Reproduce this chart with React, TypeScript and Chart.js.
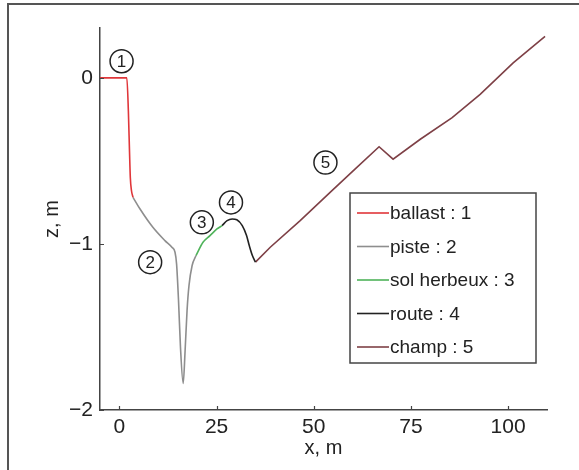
import React, { useEffect, useRef } from "react";
import { Chart, registerables } from "chart.js";

Chart.register(...registerables);

// ---- data (x in m, z in m) ----
const ballastX = [-5, 1.9, 2.3, 2.6, 2.8, 3.1, 3.5];
const ballastZ = [0, 0, -0.2, -0.45, -0.6, -0.68, -0.72];

const pisteX = [3.5, 5.3, 8.6, 11.7, 13.5, 14.3, 14.7, 15.2, 15.7, 16.4, 16.9, 17.4, 17.9, 18.7, 19.7];
const pisteZ = [-0.72, -0.79, -0.9, -0.98, -1.02, -1.05, -1.12, -1.34, -1.62, -1.84, -1.64, -1.4, -1.25, -1.13, -1.07];

const solX = [19.7, 21.5, 23.3, 25.1, 26.4];
const solZ = [-1.07, -0.99, -0.95, -0.91, -0.89];

const routeX = [26.4, 27.7, 29.0, 30.2, 31.6, 32.7, 33.4, 34.2, 35.0];
const routeZ = [-0.89, -0.86, -0.85, -0.855, -0.89, -0.95, -1.01, -1.07, -1.11];

const champX = [35.0, 38.8, 46.5, 54.2, 60.6, 66.8, 70.4, 77.4, 85.6, 92.8, 101.3, 109.5];
const champZ = [-1.11, -1.02, -0.86, -0.69, -0.55, -0.415, -0.49, -0.37, -0.24, -0.1, 0.09, 0.25];

const seriesLabels = ["ballast : 1", "piste : 2", "sol herbeux : 3", "route : 4", "champ : 5"];
const seriesColors = ["#e0363a", "#8e8e8e", "#4fb35a", "#222222", "#7e4046"];
const seriesSmooth = [true, true, true, true, false];

const xTickValues = [0, 25, 50, 75, 100];
const yTickValues = [-2, -1, 0];

const markerLabels = ["1", "2", "3", "4", "5"];
const markerX = [0.55, 7.9, 21.2, 28.7, 53.0];
const markerZ = [0.1, -1.11, -0.87, -0.75, -0.51];

const xTitle = "x, m";
const yTitle = "z, m";

const FONT = "'Liberation Sans', Arial, Helvetica, sans-serif";

function pts(xs: number[], zs: number[]) {
  return xs.map((x, i) => ({ x, y: zs[i] }));
}

const fmt = (v: number) => (v < 0 ? "\u2212" + Math.abs(v) : String(v));

const decorPlugin = {
  id: "decor",
  beforeDraw(chart: any) {
    const ctx = chart.ctx;
    ctx.save();
    ctx.fillStyle = "#ffffff";
    ctx.fillRect(0, 0, chart.width, chart.height);
    ctx.strokeStyle = "#555";
    ctx.lineWidth = 2;
    ctx.beginPath();
    ctx.moveTo(8, chart.height);
    ctx.lineTo(8, 4);
    ctx.lineTo(chart.width, 4);
    ctx.stroke();
    ctx.restore();
  },
  afterDraw(chart: any) {
    const ctx = chart.ctx;
    const xs = chart.scales.x;
    const ys = chart.scales.y;
    const area = chart.chartArea;
    ctx.save();
    ctx.strokeStyle = "#444";
    ctx.lineWidth = 1.2;
    ctx.beginPath();
    xTickValues.forEach((v) => {
      const px = Math.round(xs.getPixelForValue(v)) + 0.5;
      ctx.moveTo(px, area.bottom);
      ctx.lineTo(px, area.bottom - 4);
    });
    yTickValues.forEach((v) => {
      const py = Math.round(ys.getPixelForValue(v)) + 0.5;
      ctx.moveTo(area.left, py);
      ctx.lineTo(area.left + 4, py);
    });
    ctx.stroke();

    markerLabels.forEach((lab, i) => {
      const cx = xs.getPixelForValue(markerX[i]);
      const cy = ys.getPixelForValue(markerZ[i]);
      ctx.beginPath();
      ctx.arc(cx, cy, 11.5, 0, Math.PI * 2);
      ctx.fillStyle = "rgba(255,255,255,0.9)";
      ctx.fill();
      ctx.strokeStyle = "#222";
      ctx.lineWidth = 1.5;
      ctx.stroke();
      ctx.fillStyle = "#222";
      ctx.font = `17px ${FONT}`;
      ctx.textAlign = "center";
      ctx.textBaseline = "middle";
      ctx.fillText(lab, cx, cy + 1);
    });

    const lx = 350, ly = 193, lw = 186, lh = 170;
    ctx.fillStyle = "#ffffff";
    ctx.fillRect(lx, ly, lw, lh);
    ctx.strokeStyle = "#444";
    ctx.lineWidth = 1.5;
    ctx.strokeRect(lx, ly, lw, lh);
    const rowStart = 213;
    const rowStep = 33.5;
    chart.data.datasets.forEach((ds: any, i: number) => {
      const y = rowStart + i * rowStep;
      ctx.strokeStyle = ds.borderColor;
      ctx.lineWidth = 1.6;
      ctx.beginPath();
      ctx.moveTo(357, y);
      ctx.lineTo(389, y);
      ctx.stroke();
      ctx.fillStyle = "#222";
      ctx.font = `19px ${FONT}`;
      ctx.textAlign = "left";
      ctx.textBaseline = "middle";
      ctx.fillText(ds.label, 390, y + 1);
    });
    ctx.restore();
  },
};

export default function App() {
  const ref = useRef<HTMLCanvasElement | null>(null);

  useEffect(() => {
    if (!ref.current) return;
    const xsArr = [ballastX, pisteX, solX, routeX, champX];
    const zsArr = [ballastZ, pisteZ, solZ, routeZ, champZ];
    const chart = new Chart(ref.current, {
      type: "line",
      data: {
        datasets: seriesLabels.map((label, i) => ({
          label,
          data: pts(xsArr[i], zsArr[i]),
          borderColor: seriesColors[i],
          backgroundColor: seriesColors[i],
          borderWidth: 1.6,
          pointRadius: 0,
          fill: false,
          tension: 0,
          cubicInterpolationMode: seriesSmooth[i] ? ("monotone" as const) : ("default" as const),
        })),
      },
      options: {
        animation: false,
        responsive: false,
        maintainAspectRatio: false,
        devicePixelRatio: 1,
        layout: { padding: { top: 28, right: 32, left: 0, bottom: 0 } },
        plugins: {
          legend: { display: false },
          tooltip: { enabled: false },
        },
        scales: {
          x: {
            type: "linear",
            min: -5,
            max: 110,
            afterFit: (s: any) => {
              s.height = 60;
            },
            afterBuildTicks: (s: any) => {
              s.ticks = xTickValues.map((v) => ({ value: v }));
            },
            grid: { display: false, drawTicks: false },
            border: { display: true, color: "#444", width: 1.5 },
            ticks: {
              padding: 5,
              color: "#222",
              font: { family: FONT, size: 21 },
              callback: (v: any) => fmt(Number(v)),
              maxRotation: 0,
            },
            title: {
              display: true,
              text: xTitle,
              color: "#222",
              font: { family: FONT, size: 20 },
              padding: { top: 0, bottom: 10 },
            },
          },
          y: {
            type: "linear",
            min: -2,
            max: 0.3,
            afterFit: (s: any) => {
              s.width = 100;
            },
            afterBuildTicks: (s: any) => {
              s.ticks = yTickValues.map((v) => ({ value: v }));
            },
            grid: { display: false, drawTicks: false },
            border: { display: true, color: "#444", width: 1.5 },
            ticks: {
              padding: 7,
              color: "#222",
              font: { family: FONT, size: 21 },
              callback: (v: any) => fmt(Number(v)),
            },
            title: {
              display: true,
              text: yTitle,
              color: "#222",
              font: { family: FONT, size: 20 },
              padding: { top: 40, bottom: 0 },
            },
          },
        },
      },
      plugins: [decorPlugin],
    });
    return () => chart.destroy();
  }, []);

  return (
    <div style={{ position: "absolute", left: 0, top: 0, width: 579, height: 470 }}>
      <canvas ref={ref} width={579} height={470} style={{ width: 579, height: 470, display: "block" }} />
    </div>
  );
}
